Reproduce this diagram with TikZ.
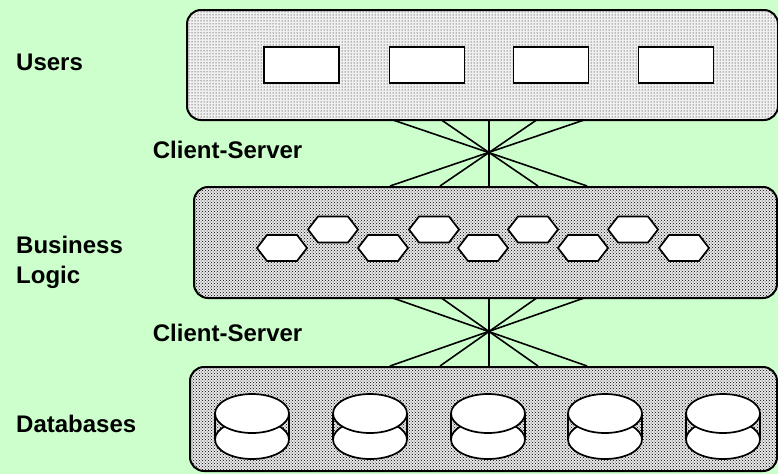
\documentclass[tikz,border=0pt]{standalone}
\usepackage{fontspec}
\setmainfont{Liberation Sans}
\usetikzlibrary{patterns}
\definecolor{bgc}{HTML}{CCFFCC}
\begin{document}
\begin{tikzpicture}[x=1pt,y=-1pt,
  tier/.style={draw=black, line width=2pt, rounded corners=14pt,
    preaction={fill=black!9}, pattern=crosshatch dots, pattern color=black,
    inner sep=0pt, anchor=north west},
  usertier/.style={tier, preaction={fill=black!6}, pattern=dots},
  userbox/.style={draw=black, fill=white, line width=1.8pt, minimum width=75pt,
    minimum height=36pt, inner sep=0pt},
  lbl/.style={font=\bfseries\fontsize{24}{30}\selectfont, inner sep=0pt, anchor=base west, align=left},
  link/.style={line width=1.6pt},
  hexa/.pic={\filldraw[fill=white, line width=1.7pt, line join=miter]
     (-25,0)--(-15,-13)--(15,-13)--(25,0)--(15,13)--(-15,13)--cycle;},
  cyl/.pic={
     \draw[line width=1.7pt] (-37,0)--(-37,26) (37,0)--(37,26);
     \filldraw[fill=white, line width=1.7pt] (0,26) ellipse (37pt and 19.5pt);
     \filldraw[fill=white, line width=1.7pt] (0,0) ellipse (37pt and 19.5pt);}
]
\fill[bgc] (0,0) rectangle (778,474);
\useasboundingbox (0,0) rectangle (778,474);

% connector end points
\foreach \i/\x in {1/390,2/440,3/489,4/538,5/587}{
  \coordinate (ua\i) at (\x,119);
  \coordinate (ba\i) at (\x,186);
  \coordinate (bb\i) at (\x,297);
  \coordinate (da\i) at (\x,366);
}
\foreach \i/\j in {1/5,2/4,3/3,4/2,5/1}{
  \draw[link] (ua\i) -- (ba\j);
  \draw[link] (bb\i) -- (da\j);
}

% tiers
\node[usertier, minimum width=591pt, minimum height=110pt] (users) at (186,9) {};
\node[tier, minimum width=583pt, minimum height=111pt] (logic) at (193,186) {};
\node[tier, minimum width=587pt, minimum height=104pt] (dbs) at (189,366) {};

% user boxes
\foreach \i/\x in {1/301.5,2/427,3/551,4/676}
  \node[userbox] (u\i) at (\x,65) {};

% business hexagons
\foreach \x in {282,383,483,583,684}
  \pic at (\x,248) {hexa};
\foreach \x in {333,434,533,633}
  \pic at (\x,229.5) {hexa};

% databases
\foreach \x in {252,370,488,605,723}
  \pic at (\x,413.5) {cyl};

% labels
\node[lbl] (l1) at (16,70.7) {Users};
\node[lbl] (l2) at (152.7,158) {Client-Server};
\node[lbl] (l3) at (16,283) {Business\\Logic};
\node[lbl] (l4) at (152.7,341) {Client-Server};
\node[lbl] (l5) at (16,432) {Databases};
\end{tikzpicture}
\end{document}
